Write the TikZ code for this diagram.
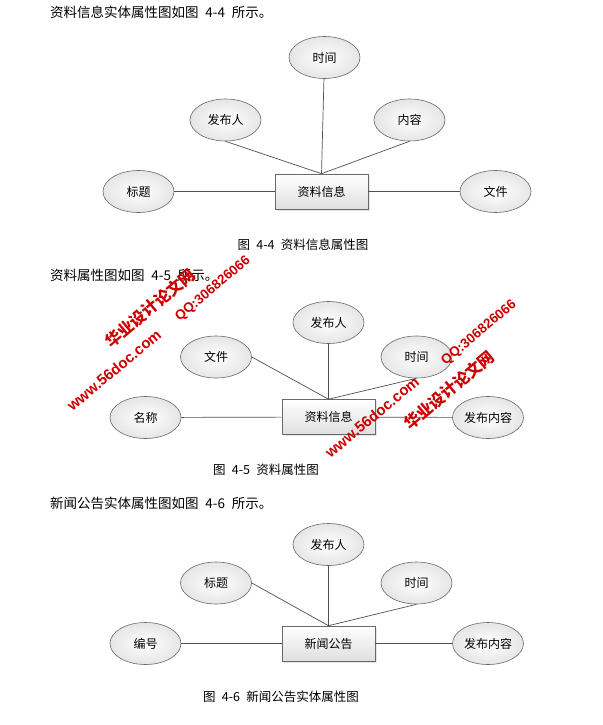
\documentclass[tikz,border=0pt]{standalone}
\usepackage{fontspec}
\newfontfamily\cjk{Noto Sans CJK SC}
\newfontfamily\wmsans{Liberation Sans}
\usetikzlibrary{shapes.geometric,shadows}
\definecolor{LineGray}{RGB}{80,80,80}
\definecolor{EdgeGray}{RGB}{105,105,105}
\definecolor{MarkRed}{RGB}{204,0,0}
\newcommand{\hsp}{\hspace{.5em}}
\tikzset{
  attr/.style={ellipse,draw=EdgeGray,inner color=white,outer color=gray!20,
               minimum width=71pt,minimum height=42pt,inner sep=0pt,
               font=\cjk\fontsize{12}{14}\selectfont,line width=0.6pt},
  ent/.style={rectangle,draw=EdgeGray,top color=white,bottom color=gray!25,
              minimum width=93pt,minimum height=35pt,line width=0.6pt,
              font=\cjk\fontsize{12}{14}\selectfont,
              drop shadow={opacity=0.2,shadow xshift=1.5pt,shadow yshift=-1.5pt}},
  link/.style={draw=LineGray,line width=0.7pt},
  para/.style={anchor=west,inner sep=0pt,font=\cjk\fontsize{13.5}{15}\selectfont},
  figcap/.style={inner sep=0pt,font=\cjk\fontsize{12.5}{15}\selectfont},
  wmcn/.style={text=MarkRed,rotate=40,inner sep=0pt,
               font=\cjk\bfseries\fontsize{16}{16}\selectfont},
  wmqq/.style={text=MarkRed,rotate=40,inner sep=0pt,
               font=\wmsans\bfseries\fontsize{13.5}{14}\selectfont},
  wmurl/.style={text=MarkRed,rotate=40,inner sep=0pt,
                font=\wmsans\bfseries\fontsize{15}{15}\selectfont},
}
\begin{document}
\begin{tikzpicture}[x=1pt,y=-1pt]
  \fill[white] (0,0) rectangle (602,725);
  \useasboundingbox (0,0) rectangle (602,725);

  % figure 4-4
  \node[para] (head1) at (50,12) {资料信息实体属性图如图\hsp 4-4\hsp 所示。};
  \node[ent] (info1) at (321.5,191.5) {资料信息};
  \node[attr] (time1) at (324.5,57.5) {时间};
  \node[attr] (pub1) at (225.5,120) {发布人};
  \node[attr] (cont1) at (409.5,120) {内容};
  \node[attr] (title1) at (138.5,191.5) {标题};
  \node[attr] (file1) at (495.5,191.5) {文件};
  \node[figcap] (cap1) at (303,245) {图\hsp 4-4\hsp 资料信息属性图};

  \draw[link] (time1) -- (info1.north);
  \draw[link] (pub1.south) -- (info1.north);
  \draw[link] (cont1.south) -- (info1.north);
  \draw[link] (title1) -- (info1);
  \draw[link] (info1) -- (file1);

  % figure 4-5
  \node[para] (head2) at (50,275) {资料属性图如图\hsp 4-5\hsp 所示。};
  \node[ent] (info2) at (328.5,417) {资料信息};
  \node[attr] (pub2) at (328.5,322.5) {发布人};
  \node[attr] (file2) at (216,357) {文件};
  \node[attr] (time2) at (416.5,357) {时间};
  \node[attr] (name2) at (145.5,417.5) {名称};
  \node[attr] (cont2) at (488,417.5) {发布内容};
  \node[figcap] (cap2) at (266,470) {图\hsp 4-5\hsp 资料属性图};

  \draw[link] (pub2) -- (info2.north);
  \draw[link] (file2.east) -- (info2.north);
  \draw[link] (time2.south) -- (info2.north);
  \draw[link] (name2) -- (info2);
  \draw[link] (info2) -- (cont2);

  % figure 4-6
  \node[para] (head3) at (50,503) {新闻公告实体属性图如图\hsp 4-6\hsp 所示。};
  \node[ent] (news3) at (328.5,643.5) {新闻公告};
  \node[attr] (pub3) at (328.5,544.5) {发布人};
  \node[attr] (title3) at (216,583) {标题};
  \node[attr] (time3) at (416.5,583) {时间};
  \node[attr] (num3) at (145.5,643.5) {编号};
  \node[attr] (cont3) at (488,643.5) {发布内容};
  \node[figcap] (cap3) at (281,697) {图\hsp 4-6\hsp 新闻公告实体属性图};

  \draw[link] (pub3) -- (news3.north);
  \draw[link] (title3.east) -- (news3.north);
  \draw[link] (time3.south) -- (news3.north);
  \draw[link] (num3) -- (news3);
  \draw[link] (news3) -- (cont3);

  % watermarks
  \node[wmcn] (wmcnA) at (150,308) {华业设计论文网};
  \node[wmqq] (wmqqA) at (213,289) {QQ:306826066};
  \node[wmurl] (wmurlA) at (114,370) {www.56doc.com};
  \node[wmcn] (wmcnB) at (449,390) {华业设计论文网};
  \node[wmqq] (wmqqB) at (479,333) {QQ:306826066};
  \node[wmurl] (wmurlB) at (372,417) {www.56doc.com};
\end{tikzpicture}
\end{document}
